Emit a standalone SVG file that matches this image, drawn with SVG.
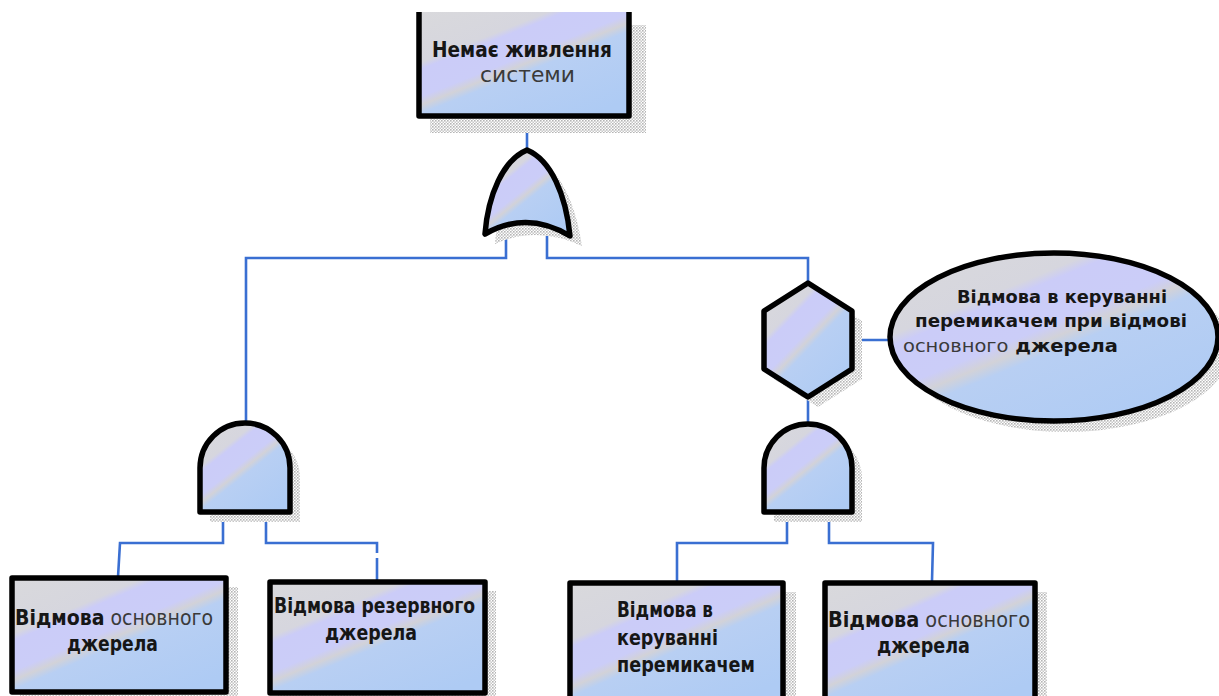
<svg xmlns="http://www.w3.org/2000/svg" width="1219" height="696" viewBox="0 0 1219 696">
<style>
.sh{fill:url(#dots)}
.nd{fill:url(#fillg);stroke:#000;stroke-width:5.5;stroke-linejoin:round}
.cn{fill:none;stroke:#3a6fd2;stroke-width:2.6}
text{font-family:"DejaVu Sans","Liberation Sans",sans-serif;fill:#161616}
.b{font-weight:bold}
.r{font-weight:normal;fill:#3a3a3a}
.t{font-size:20.5px}
.e{font-size:18.5px}
</style>
<defs>
<pattern id="dots" width="3" height="3" patternUnits="userSpaceOnUse">
<rect width="3" height="3" fill="#ffffff"/>
<rect width="1.6" height="1.6" fill="#b5b5b5"/>
<rect x="1.5" y="1.5" width="1.5" height="1.5" fill="#c8c8c8"/>
</pattern>
<linearGradient id="fillg" x1="0" y1="0" x2="0.8" y2="1">
<stop offset="0" stop-color="#d9d9dc"/>
<stop offset="0.3" stop-color="#d6d6de"/>
<stop offset="0.34" stop-color="#cbccf8"/>
<stop offset="0.5" stop-color="#cbcdf8"/>
<stop offset="0.55" stop-color="#d2d2d8"/>
<stop offset="0.6" stop-color="#b8cff3"/>
<stop offset="1" stop-color="#aecbf4"/>
</linearGradient>
</defs>

<g id="connectors">
<path class="cn" d="M527,118 V150"/>
<path class="cn" d="M506,234 V258 H246 V423"/>
<path class="cn" d="M547,236 V258 H808 V283"/>
<path class="cn" d="M808,397 V423"/>
<path class="cn" d="M853,340 H889"/>
<path class="cn" d="M223,512 V543 H120 L118,577"/>
<path class="cn" d="M266,512 V543 H377 V553 M377,558 V580"/>
<path class="cn" d="M787,512 V543 H677 V581"/>
<path class="cn" d="M829,512 V543 H933 L932,581"/>
</g>

<g id="top-event">
<rect class="sh" x="430" y="25" width="216" height="108"/>
<rect x="419" y="12" width="210" height="104" fill="url(#fillg)"/>
<path d="M419,12 V116 H629 V12" fill="none" stroke="#000" stroke-width="5.5" stroke-linejoin="round"/>
<text class="t b" x="432" y="57" textLength="180" lengthAdjust="spacingAndGlyphs">Немає живлення</text>
<text class="t r" x="480" y="82" textLength="95" lengthAdjust="spacingAndGlyphs">системи</text>
</g>

<g id="or-gate">
<path class="sh" d="M495,244 C498,205 513,170 537,160 C561,170 576,205 582,246 Q537,225 495,244 Z"/>
<path class="nd" d="M485,234 C488,195 503,160 527,150 C551,160 566,195 570,236 Q527,210 485,234 Z"/>
</g>

<g id="and-gate-left">
<path class="sh" d="M210,522 V478 A45,45 0 0 1 300,478 V522 Z"/>
<path class="nd" d="M200,512 V468 A45,45 0 0 1 290,468 V512 Z"/>
</g>

<g id="inhibit-gate">
<polygon class="sh" points="818,293 862,321 862,379 818,407 774,379 774,321"/>
<polygon class="nd" points="808,283 852,311 852,369 808,397 764,369 764,311"/>
</g>

<g id="condition">
<ellipse class="sh" cx="1066" cy="348" rx="164" ry="84"/>
<ellipse class="nd" cx="1054" cy="337" rx="164" ry="84"/>
<text class="e b" x="957" y="303" textLength="210" lengthAdjust="spacingAndGlyphs">Відмова в  керуванні</text>
<text class="e b" x="915" y="327" textLength="272" lengthAdjust="spacingAndGlyphs">перемикачем  при  відмові</text>
<text class="e" x="903" y="352" textLength="215" lengthAdjust="spacingAndGlyphs"><tspan class="r">основного</tspan><tspan class="b"> джерела</tspan></text>
</g>

<g id="and-gate-right">
<path class="sh" d="M774,522 V478 A44,44 0 0 1 862,478 V522 Z"/>
<path class="nd" d="M764,512 V468 A44,44 0 0 1 852,468 V512 Z"/>
</g>

<g id="event-primary-1">
<rect class="sh" x="20" y="587" width="218" height="120"/>
<rect class="nd" x="12" y="578" width="214" height="114"/>
<text class="t" x="15" y="625" textLength="198" lengthAdjust="spacingAndGlyphs"><tspan class="b">Відмова</tspan><tspan class="r"> основного</tspan></text>
<text class="t b" x="67" y="651" textLength="91" lengthAdjust="spacingAndGlyphs">джерела</text>
</g>

<g id="event-reserve">
<rect class="sh" x="278" y="591" width="218" height="120"/>
<rect class="nd" x="270" y="582" width="215" height="111"/>
<text class="t b" x="274" y="613" textLength="201" lengthAdjust="spacingAndGlyphs">Відмова резервного</text>
<text class="t b" x="325" y="640" textLength="92" lengthAdjust="spacingAndGlyphs">джерела</text>
</g>

<g id="event-switch">
<rect class="sh" x="578" y="592" width="218" height="120"/>
<rect class="nd" x="570" y="583" width="213" height="116"/>
<text class="t b" x="617" y="617" textLength="96" lengthAdjust="spacingAndGlyphs">Відмова в</text>
<text class="t b" x="617" y="645" textLength="101" lengthAdjust="spacingAndGlyphs">керуванні</text>
<text class="t b" x="617" y="672" textLength="138" lengthAdjust="spacingAndGlyphs">перемикачем</text>
</g>

<g id="event-primary-2">
<rect class="sh" x="833" y="592" width="214" height="120"/>
<rect class="nd" x="825" y="583" width="210" height="116"/>
<text class="t" x="828" y="627" textLength="202" lengthAdjust="spacingAndGlyphs"><tspan class="b">Відмова</tspan><tspan class="r"> основного</tspan></text>
<text class="t b" x="877" y="653" textLength="93" lengthAdjust="spacingAndGlyphs">джерела</text>
</g>
</svg>
